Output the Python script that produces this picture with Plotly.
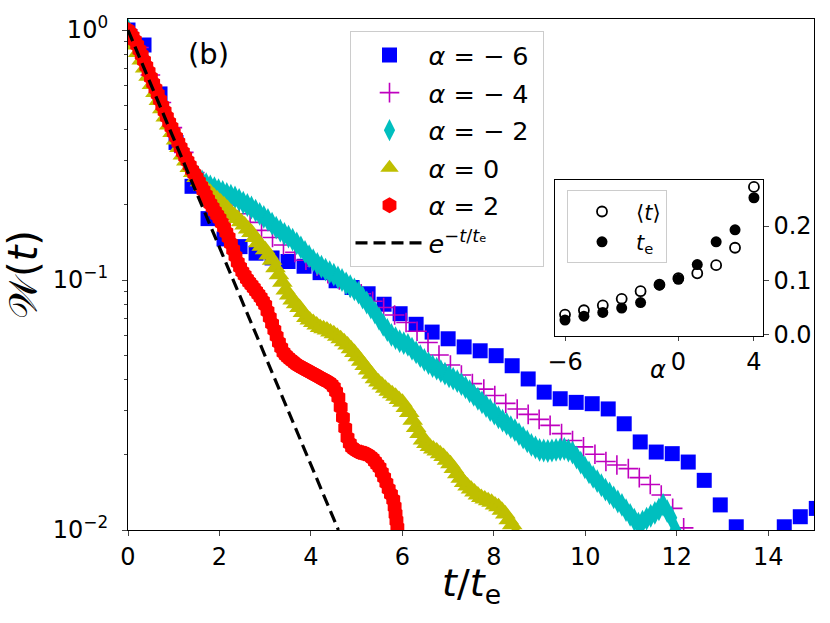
import plotly.graph_objects as go

# ---------------- data ----------------
t_blue = [0.0, 0.35, 0.70, 1.05, 1.40, 1.75, 2.10, 2.45, 2.80, 3.15, 3.50, 3.85, 4.20, 4.55, 4.90,
          5.25, 5.60, 5.95, 6.30, 6.65, 7.00, 7.35, 7.70, 8.05, 8.40, 8.75, 9.10, 9.45, 9.80, 10.15,
          10.50, 10.85, 11.20, 11.55, 11.90, 12.25, 12.60, 12.95, 13.30, 13.65, 14.00, 14.35, 14.70, 15.05]
w_blue = [1.0, 0.871, 0.555, 0.355, 0.237, 0.176, 0.146, 0.136, 0.128, 0.1225, 0.1186, 0.1135, 0.107,
          0.0993, 0.0933, 0.0881, 0.080, 0.0733, 0.0665, 0.0619, 0.0582, 0.054, 0.0521, 0.0498, 0.0454,
          0.0402, 0.0356, 0.0335, 0.0324, 0.032, 0.0305, 0.0266, 0.0225, 0.0205, 0.0202, 0.0187, 0.0158,
          0.0126, 0.0103, 0.0085, 0.0082, 0.0103, 0.0113, 0.0122]

t_mag = [0.00, 0.24, 0.49, 0.73, 0.97, 1.22, 1.46, 1.70, 1.94, 2.19, 2.43, 2.67, 2.92, 3.16, 3.40, 3.65,
         3.89, 4.13, 4.37, 4.62, 4.86, 5.10, 5.35, 5.59, 5.83, 6.08, 6.32, 6.56, 6.80, 7.05, 7.29, 7.53,
         7.78, 8.02, 8.26, 8.51, 8.75, 8.99, 9.23, 9.48, 9.72, 9.96, 10.21, 10.45, 10.69, 10.94, 11.18,
         11.42, 11.66, 11.91, 12.15, 12.39]
w_mag = [1.0, 0.851, 0.661, 0.513, 0.407, 0.324, 0.269, 0.24, 0.219, 0.1995, 0.184, 0.17, 0.158, 0.148,
         0.138, 0.129, 0.120, 0.1135, 0.106, 0.1, 0.0933, 0.0881, 0.0822, 0.0776, 0.0724, 0.0676, 0.0624,
         0.0562, 0.0501, 0.0457, 0.0417, 0.0385, 0.0366, 0.0345, 0.0321, 0.0305, 0.029, 0.0277, 0.0262,
         0.0243, 0.0228, 0.0215, 0.0201, 0.0188, 0.0182, 0.0176, 0.0162, 0.0152, 0.0138, 0.0122, 0.0102,
         0.0079]

t_cyan = [0.00, 0.09, 0.18, 0.27, 0.36, 0.45, 0.54, 0.63, 0.72, 0.81, 0.90, 0.99, 1.08, 1.17, 1.26, 1.35,
          1.44, 1.53, 1.62, 1.71, 1.80, 1.89, 1.98, 2.07, 2.16, 2.25, 2.34, 2.43, 2.52, 2.61, 2.70, 2.79,
          2.88, 2.97, 3.06, 3.15, 3.24, 3.33, 3.42, 3.51, 3.60, 3.69, 3.78, 3.87, 3.96, 4.05, 4.14, 4.23,
          4.32, 4.41, 4.50, 4.59, 4.68, 4.77, 4.86, 4.95, 5.04, 5.13, 5.22, 5.31, 5.40, 5.49, 5.58, 5.67,
          5.76, 5.85, 5.94, 6.03, 6.12, 6.21, 6.30, 6.39, 6.48, 6.57, 6.66, 6.75, 6.84, 6.93, 7.02, 7.11,
          7.20, 7.29, 7.38, 7.47, 7.56, 7.65, 7.74, 7.83, 7.92, 8.01, 8.10, 8.19, 8.28, 8.37, 8.46, 8.55,
          8.64, 8.73, 8.82, 8.91, 9.00, 9.09, 9.18, 9.27, 9.36, 9.45, 9.54, 9.63, 9.72, 9.81, 9.90, 9.99,
          10.08, 10.17, 10.26, 10.35, 10.44, 10.53, 10.62, 10.71, 10.80, 10.89, 10.98, 11.07, 11.16, 11.25,
          11.34, 11.43, 11.52, 11.61, 11.70, 11.79, 11.88, 11.97, 12.06]
w_cyan = [1.0, 0.944, 0.891, 0.822, 0.759, 0.692, 0.631, 0.572, 0.519, 0.471, 0.427, 0.394, 0.363, 0.335,
          0.309, 0.288, 0.269, 0.258, 0.248, 0.242, 0.237, 0.233, 0.229, 0.225, 0.221, 0.2175, 0.214, 0.209,
          0.204, 0.1995, 0.195, 0.1895, 0.184, 0.179, 0.174, 0.168, 0.162, 0.1575, 0.153, 0.149, 0.145,
          0.140, 0.135, 0.1295, 0.1245, 0.120, 0.116, 0.113, 0.11, 0.1075, 0.105, 0.1025, 0.1, 0.097,
          0.0944, 0.0917, 0.0891, 0.0851, 0.0813, 0.0776, 0.0741, 0.070, 0.0661, 0.0631, 0.0603, 0.0586,
          0.0569, 0.0559, 0.055, 0.0531, 0.0513, 0.0496, 0.0479, 0.0465, 0.0452, 0.0442, 0.0432, 0.0422,
          0.0412, 0.0403, 0.0394, 0.0383, 0.0372, 0.0359, 0.0347, 0.0335, 0.0324, 0.0313, 0.0302, 0.0292,
          0.0282, 0.0274, 0.0266, 0.0258, 0.0251, 0.0242, 0.0234, 0.0226, 0.0219, 0.0214, 0.0209, 0.0208,
          0.0207, 0.0208, 0.0209, 0.021, 0.0211, 0.0208, 0.0204, 0.0195, 0.0186, 0.0178, 0.017, 0.0163,
          0.0157, 0.0151, 0.0145, 0.014, 0.0135, 0.013, 0.0126, 0.012, 0.0115, 0.011, 0.0106, 0.0108,
          0.0111, 0.0114, 0.0117, 0.0121, 0.0126, 0.0119, 0.0112, 0.010, 0.0089]

t_yel = [0.000, 0.075, 0.150, 0.225, 0.300, 0.375, 0.450, 0.525, 0.600, 0.675, 0.750, 0.825, 0.900,
         0.975, 1.050, 1.125, 1.200, 1.275, 1.350, 1.425, 1.500, 1.575, 1.650, 1.725, 1.800, 1.875,
         1.950, 2.025, 2.100, 2.175, 2.250, 2.325, 2.400, 2.475, 2.550, 2.625, 2.700, 2.775, 2.850,
         2.925, 3.000, 3.075, 3.150, 3.225, 3.300, 3.375, 3.450, 3.525, 3.600, 3.675, 3.750, 3.825,
         3.900, 3.975, 4.050, 4.125, 4.200, 4.275, 4.350, 4.425, 4.500, 4.575, 4.650, 4.725, 4.800,
         4.875, 4.950, 5.025, 5.100, 5.175, 5.250, 5.325, 5.400, 5.475, 5.550, 5.625, 5.700, 5.775,
         5.850, 5.925, 6.000, 6.075, 6.150, 6.225, 6.300, 6.375, 6.450, 6.525, 6.600, 6.675, 6.750,
         6.825, 6.900, 6.975, 7.050, 7.125, 7.200, 7.275, 7.350, 7.425, 7.500, 7.575, 7.650, 7.725,
         7.800, 7.875, 7.950, 8.025, 8.100, 8.175, 8.250, 8.325, 8.400, 8.475, 8.550]
w_yel = [0.977, 0.922, 0.871, 0.813, 0.759, 0.704, 0.653, 0.606, 0.562, 0.522, 0.484, 0.449, 0.417,
         0.389, 0.363, 0.339, 0.316, 0.299, 0.282, 0.269, 0.257, 0.247, 0.237, 0.230, 0.224, 0.217,
         0.211, 0.205, 0.1995, 0.193, 0.186, 0.181, 0.176, 0.171, 0.166, 0.160, 0.155, 0.148, 0.141,
         0.1365, 0.132, 0.126, 0.12, 0.112, 0.105, 0.098, 0.0912, 0.087, 0.0832, 0.0803, 0.0776, 0.0741,
         0.0708, 0.0692, 0.0676, 0.0661, 0.0646, 0.0638, 0.0631, 0.062, 0.061, 0.0596, 0.0582, 0.0566,
         0.055, 0.0531, 0.0513, 0.0493, 0.0473, 0.0455, 0.0437, 0.042, 0.0403, 0.0391, 0.038, 0.0369,
         0.0359, 0.0351, 0.0343, 0.0333, 0.0324, 0.0309, 0.0295, 0.0275, 0.0257, 0.0243, 0.0229, 0.0222,
         0.0216, 0.0211, 0.0207, 0.0202, 0.0197, 0.0190, 0.0184, 0.0176, 0.0168, 0.0161, 0.0155, 0.015,
         0.0146, 0.0142, 0.0138, 0.0135, 0.0133, 0.0131, 0.0129, 0.0126, 0.0124, 0.012, 0.0116, 0.011,
         0.0105, 0.0097, 0.0085]

t_red = [0.0, 0.05, 0.1, 0.15, 0.2, 0.25, 0.3, 0.35, 0.4, 0.45, 0.5, 0.55, 0.6, 0.65, 0.7, 0.75, 0.8,
         0.85, 0.9, 0.95, 1.0, 1.05, 1.1, 1.15, 1.2, 1.25, 1.3, 1.35, 1.4, 1.45, 1.5, 1.55, 1.6, 1.65,
         1.7, 1.75, 1.8, 1.85, 1.9, 1.95, 2.0, 2.05, 2.1, 2.15, 2.2, 2.25, 2.3, 2.35, 2.4, 2.45, 2.5,
         2.55, 2.6, 2.65, 2.7, 2.75, 2.8, 2.85, 2.9, 2.95, 3.0, 3.05, 3.1, 3.15, 3.2, 3.25, 3.3, 3.35,
         3.4, 3.45, 3.5, 3.55, 3.6, 3.65, 3.7, 3.75, 3.8, 3.85, 3.9, 3.95, 4.0, 4.05, 4.1, 4.15, 4.2,
         4.25, 4.3, 4.35, 4.4, 4.45, 4.5, 4.55, 4.6, 4.65, 4.7, 4.75, 4.8, 4.85, 4.9, 4.95, 5.0, 5.05,
         5.1, 5.15, 5.2, 5.25, 5.3, 5.35, 5.4, 5.45, 5.5, 5.55, 5.6, 5.65, 5.7, 5.75, 5.8, 5.83, 5.85,
         5.87, 5.89, 5.9]
w_red = [1.0, 0.972, 0.944, 0.907, 0.871, 0.832, 0.794, 0.754, 0.716, 0.680, 0.646, 0.613, 0.582, 0.553,
         0.525, 0.498, 0.473, 0.449, 0.427, 0.408, 0.389, 0.372, 0.355, 0.339, 0.324, 0.311, 0.299, 0.287,
         0.275, 0.266, 0.257, 0.247, 0.237, 0.228, 0.219, 0.210, 0.202, 0.195, 0.188, 0.182, 0.176, 0.169,
         0.162, 0.155, 0.148, 0.140, 0.132, 0.1245, 0.1175, 0.1125, 0.108, 0.1045, 0.101, 0.098, 0.0955,
         0.093, 0.0902, 0.0876, 0.0851, 0.0822, 0.0794, 0.075, 0.0708, 0.0668, 0.0631, 0.0596, 0.0562,
         0.0536, 0.0513, 0.050, 0.049, 0.0481, 0.0473, 0.0465, 0.0457, 0.0452, 0.0447, 0.0442, 0.0437,
         0.0432, 0.0427, 0.0422, 0.0417, 0.0412, 0.0407, 0.0402, 0.0398, 0.0394, 0.0389, 0.0382, 0.0372,
         0.0357, 0.0339, 0.031, 0.0282, 0.0256, 0.0234, 0.0222, 0.0214, 0.0210, 0.0207, 0.0205, 0.0204,
         0.0203, 0.0202, 0.0200, 0.0197, 0.0193, 0.0188, 0.0183, 0.0178, 0.0170, 0.0162, 0.0154, 0.0146,
         0.0139, 0.0132, 0.0124, 0.0116, 0.0109, 0.0102, 0.0096]

t_exp = [0.0, 1.0, 2.0, 3.0, 4.0, 4.6]
w_exp = [1.0, 0.368, 0.135, 0.0498, 0.0183, 0.0100]

alpha = [-6, -5, -4, -3, -2, -1, 0, 1, 2, 3, 4]
t_mean = [0.037, 0.045, 0.054, 0.066, 0.080, 0.092, 0.104, 0.113, 0.128, 0.160, 0.272]
t_e = [0.027, 0.034, 0.041, 0.049, 0.059, 0.091, 0.102, 0.129, 0.171, 0.193, 0.252]

x_ticks = [0, 2, 4, 6, 8, 10, 12, 14]
y_ticks = [1, 0.1, 0.01]
y_ticktext = ["10<sup>0</sup>", "10<sup>−1</sup>", "10<sup>−2</sup>"]
y_minor = [0.02, 0.03, 0.04, 0.05, 0.06, 0.07, 0.08, 0.09, 0.2, 0.3, 0.4, 0.5, 0.6, 0.7, 0.8, 0.9]
inset_xticks = [-6, 0, 4]
inset_xticktext = ["−6", "0", "4"]
inset_yticks = [0.0, 0.1, 0.2]

labels = ["<i>α</i> = − 6\u00a0", "<i>α</i> = − 4", "<i>α</i> = − 2", "<i>α</i> = 0", "<i>α</i> = 2"]

FONT = "DejaVu Sans"

fig = go.Figure()

fig.add_trace(go.Scatter(x=t_blue, y=w_blue, mode="markers", name=labels[0], legendgroup="a",
                         marker=dict(symbol="square", size=15, color="#0000ff")))
fig.add_trace(go.Scatter(x=t_mag, y=w_mag, mode="markers", name=labels[1], legendgroup="b",
                         marker=dict(symbol="cross-thin-open", size=14, color="#bf00bf",
                                     line=dict(width=1.6, color="#bf00bf"))))
fig.add_trace(go.Scatter(x=t_cyan, y=w_cyan, mode="markers", name=labels[2], legendgroup="c",
                         marker=dict(symbol="diamond-tall", size=17, color="#00bfbf")))
fig.add_trace(go.Scatter(x=t_yel, y=w_yel, mode="markers", name=labels[3], legendgroup="d",
                         marker=dict(symbol="triangle-up", size=18, color="#bfbf00")))
fig.add_trace(go.Scatter(x=t_red, y=w_red, mode="markers", name=labels[4], legendgroup="e",
                         marker=dict(symbol="hexagon", size=16, color="#ff0000")))
fig.add_trace(go.Scatter(x=t_exp, y=w_exp, mode="lines", name="<i>e</i><sup>−<i>t</i>/<i>t</i>ₑ</sup>",
                         legendgroup="f", line=dict(color="black", width=3.2, dash="12px,6px")))

fig.add_trace(go.Scatter(x=alpha, y=t_mean, mode="markers", name="⟨<i>t</i>⟩", xaxis="x2", yaxis="y2",
                         legend="legend2", legendgroup="g1",
                         marker=dict(symbol="circle-open", size=10, color="black", line=dict(width=1.8))))
fig.add_trace(go.Scatter(x=alpha, y=t_e, mode="markers", name="<i>t</i><sub>e</sub>", xaxis="x2", yaxis="y2",
                         legend="legend2", legendgroup="g2",
                         marker=dict(symbol="circle", size=11, color="black")))

L, R, T, B = 128, 16, 17, 93
W, H = 830, 623
pw, ph = W - L - R, H - T - B


def px_x(x):
    return (x - L) / pw


def px_y(y):
    return (H - B - y) / ph


fig.update_layout(
    width=W, height=H,
    margin=dict(l=L, r=R, t=T, b=B),
    paper_bgcolor="white", plot_bgcolor="white",
    font=dict(family=FONT, color="black", size=24),
    xaxis=dict(range=[0, 15], tickvals=x_ticks, ticks="outside", ticklen=5, tickwidth=1.2,
               showline=True, linecolor="black", linewidth=1.2, mirror=True, showgrid=False,
               zeroline=False, tickfont=dict(size=24), ticklabelstandoff=0),
    yaxis=dict(type="log", range=[-2, 0.044], tickvals=y_ticks, ticktext=y_ticktext,
               ticks="outside", ticklen=5, tickwidth=1.2, ticklabelstandoff=9,
               minor=dict(tickvals=y_minor, ticks="outside", ticklen=3, tickwidth=1, showgrid=False),
               showline=True, linecolor="black", linewidth=1.2, mirror=True, showgrid=False,
               zeroline=False, tickfont=dict(size=24),
               title=dict(text="𝒲(<i>t</i>)", font=dict(size=40), standoff=2)),
    xaxis2=dict(domain=[px_x(555), px_x(763)], anchor="y2", range=[-6.53, 4.48],
                tickvals=inset_xticks, ticktext=inset_xticktext, ticks="outside", ticklen=4,
                showline=True, linecolor="black", linewidth=1.2, mirror=True, showgrid=False,
                zeroline=False, tickfont=dict(size=24)),
    yaxis2=dict(domain=[px_y(335), px_y(179)], anchor="x2", side="right", range=[-0.002, 0.284],
                tickvals=inset_yticks, tickformat=".1f", ticks="outside", ticklen=4.5,
                showline=True, linecolor="black", linewidth=1.2, mirror=True, showgrid=False,
                zeroline=False, tickfont=dict(size=24)),
    legend=dict(x=px_x(349.5), y=px_y(29), xanchor="left", yanchor="top",
                bgcolor="rgba(255,255,255,0.8)", bordercolor="#cccccc", borderwidth=1,
                font=dict(size=25.5), tracegroupgap=1.4, itemwidth=68),
    legend2=dict(x=px_x(567), y=px_y(189), xanchor="left", yanchor="top",
                 bgcolor="rgba(255,255,255,0.8)", bordercolor="#cccccc", borderwidth=1,
                 font=dict(size=21), tracegroupgap=0, itemwidth=58),
    showlegend=True,
)

fig.add_annotation(text="(b)", x=px_x(208), y=px_y(52), xref="paper", yref="paper",
                   showarrow=False, font=dict(size=29), xanchor="center", yanchor="middle")
fig.add_annotation(text="<i>α</i>", x=px_x(658), y=px_y(369), xref="paper", yref="paper",
                   showarrow=False, font=dict(size=24), xanchor="center", yanchor="middle")
fig.add_annotation(text="<i>t</i>/<i>t</i><sub>e</sub>", x=px_x(471), y=px_y(586), xref="paper",
                   yref="paper", showarrow=False, font=dict(size=38), xanchor="center", yanchor="middle")

fig.write_html("out.html", config={"displayModeBar": False},
               post_script="document.body.style.margin='0px';")
